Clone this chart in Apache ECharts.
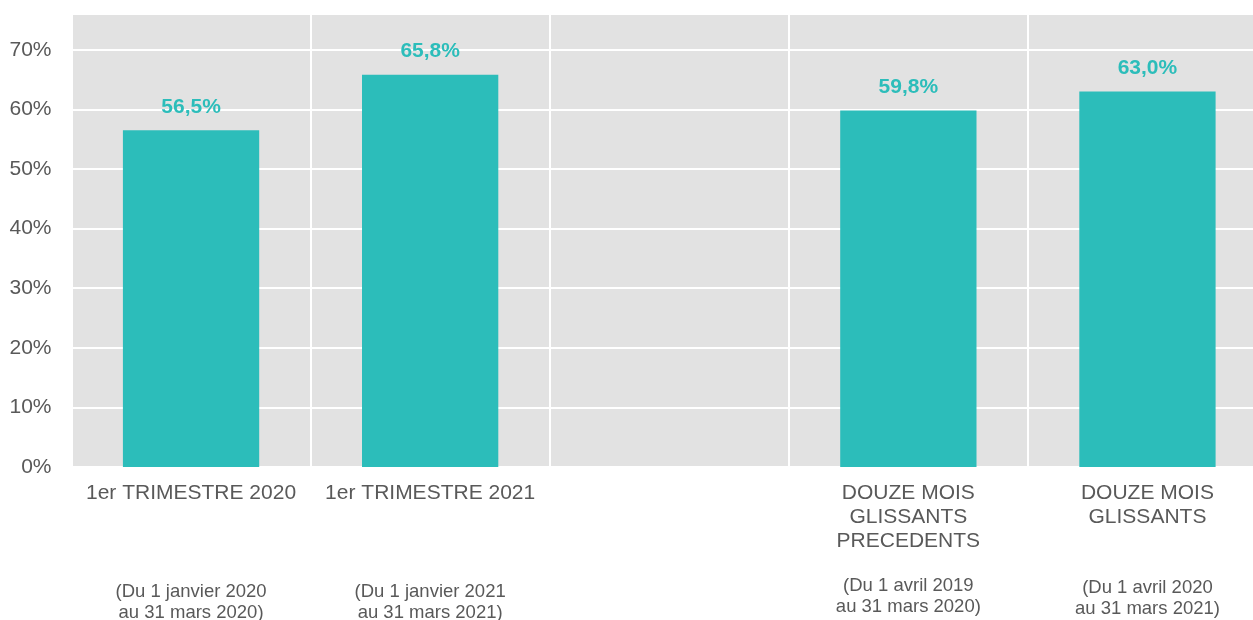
<!DOCTYPE html>
<html>
<head>
<meta charset="utf-8">
<script src="https://cdn.jsdelivr.net/npm/echarts@6/dist/echarts.min.js"></script>
<style>
  html, body { margin: 0; padding: 0; background: #fff; }
  #chart { width: 1253px; height: 620px; }
</style>
</head>
<body>
<div id="chart"></div>
<script>
// categories (the middle one is left empty on purpose)
const categories = [
  '1er TRIMESTRE 2020',
  '1er TRIMESTRE 2021',
  '',
  'DOUZE MOIS\nGLISSANTS\nPRECEDENTS',
  'DOUZE MOIS\nGLISSANTS'
];
const periods = [
  '(Du 1 janvier 2020\nau 31 mars 2020)',
  '(Du 1 janvier 2021\nau 31 mars 2021)',
  '',
  '(Du 1 avril 2019\nau 31 mars 2020)',
  '(Du 1 avril 2020\nau 31 mars 2021)'
];
const values = [56.5, 65.8, null, 59.8, 63.0];

const teal = '#2cbdba';
const grey = '#595959';
const font = '"Liberation Sans", Arial, sans-serif';

let myChart = echarts.init(document.getElementById('chart'));

function xLabel(value, index) {
  if (!value) return '';
  let lines = value.split('\n');
  let out = lines.map(l => `{a|${l}}`);
  // spacer so the period text sits at about the same height in every column
  out.push(`{g${lines.length}| }`);
  periods[index].split('\n').forEach(l => out.push(`{b|${l}}`));
  return out.join('\n');
}

myChart.setOption({
  animation: false,
  textStyle: { fontFamily: font },
  grid: {
    left: 71.5,
    right: -14,
    top: 14,
    bottom: 153,
    show: true,
    borderWidth: 0,
    backgroundColor: '#e2e2e2',
    outerBoundsMode: 'none'
  },
  xAxis: {
    type: 'category',
    data: categories,
    axisLine: { show: false },
    axisTick: { show: false },
    splitLine: { show: true, interval: 0, lineStyle: { color: '#ffffff', width: 2 } },
    axisLabel: {
      interval: 0,
      margin: 14,
      formatter: xLabel,
      rich: {
        a: { fontSize: 21, lineHeight: 24, color: grey, fontFamily: font, align: 'center' },
        b: { fontSize: 18.5, lineHeight: 21, color: grey, fontFamily: font, align: 'center' },
        g1: { fontSize: 10, lineHeight: 76 },
        g2: { fontSize: 10, lineHeight: 48 },
        g3: { fontSize: 10, lineHeight: 22 }
      }
    }
  },
  yAxis: {
    type: 'value',
    min: 0,
    max: 76,
    interval: 10,
    axisLine: { show: false },
    axisTick: { show: false },
    splitLine: { lineStyle: { color: '#ffffff', width: 2 } },
    axisLabel: {
      showMaxLabel: false,
      margin: 20,
      fontSize: 21,
      color: grey,
      fontFamily: font,
      formatter: '{value}%'
    }
  },
  series: [
    {
      type: 'bar',
      data: values,
      barWidth: '57%',
      itemStyle: { color: teal },
      label: {
        show: true,
        position: 'top',
        distance: 13,
        color: teal,
        fontSize: 21,
        fontWeight: 'bold',
        fontFamily: font,
        formatter: (p) => p.value.toFixed(1).replace('.', ',') + '%'
      }
    }
  ]
});
</script>
</body>
</html>
